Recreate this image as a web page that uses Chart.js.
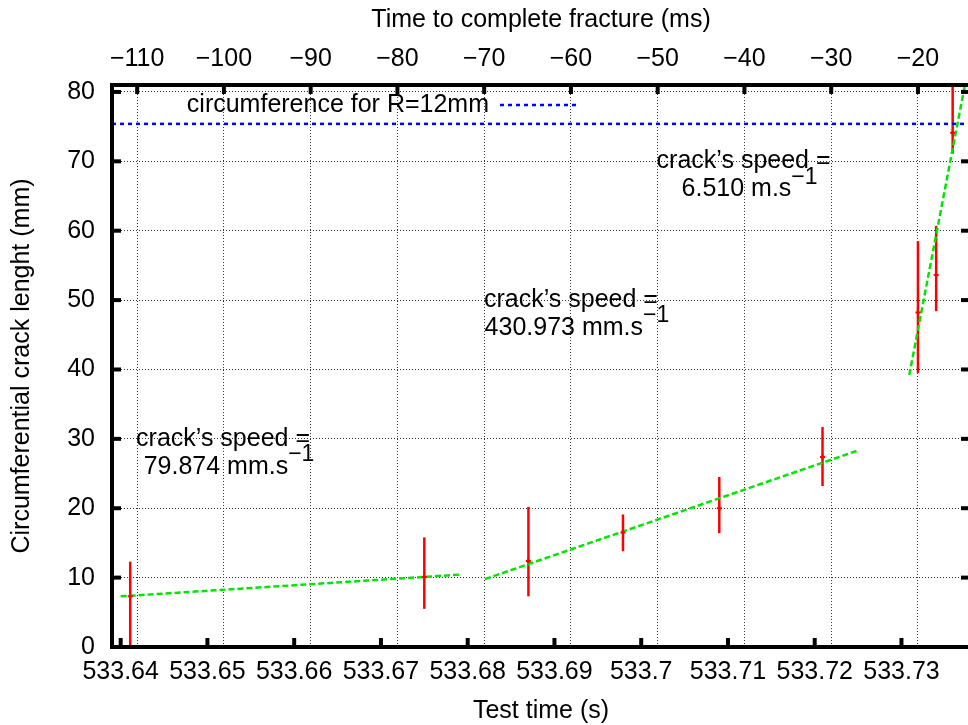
<!DOCTYPE html>
<html>
<head>
<meta charset="utf-8">
<title>Circumferential crack length</title>
<script src="https://cdn.jsdelivr.net/npm/chart.js@4/dist/chart.umd.min.js"></script>
<style>
    html, body { margin: 0; padding: 0; background: #fff; overflow: hidden; }
    #wrap { width: 976px; height: 725px; }
</style>
</head>
<body>
<div id="wrap"><canvas id="chartCrack" width="976" height="725"></canvas></div>
<script>
// measured crack length (mm) against test time (s), with error bar limits
const testTime    = [533.6411, 533.6750, 533.6870, 533.6979, 533.7090, 533.7209, 533.7319, 533.7340, 533.7359];
const crackLength = [7.3, 10.1, 12.4, 16.5, 20.0, 27.4, 48.2, 53.6, 74.1];
const crackLow    = [-0.3, 5.5, 7.3, 13.8, 16.4, 23.2, 39.5, 48.4, 71.1];
const crackHigh   = [12.3, 15.8, 20.2, 19.1, 24.5, 31.7, 58.5, 60.7, 82.0];

// linear fits, one per growth stage (end points)
const fitSlowX = [533.6400, 533.6790];
const fitSlowY = [7.30, 10.42];
const fitMidX  = [533.6820, 533.7250];
const fitMidY  = [9.79, 28.33];
const fitFastX = [533.7309, 533.7375];
const fitFastY = [39.2, 82.2];

const circumference = 75.4;        // 2*pi*R for R = 12 mm
const fractureTime = 533.7519;     // time of complete fracture (s)

const speedText  = ['79.874 mm.s', '430.973 mm.s', '6.510 m.s'];
const speedAtX   = [533.6518, 533.6919, 533.7118];
const speedAtY   = [30, 50, 70];

const xMin = 533.639, xMax = 533.7379;
const FONT = '"Liberation Sans", Arial, sans-serif';

Chart.defaults.font.family = FONT;
Chart.defaults.font.size = 25;
Chart.defaults.color = '#000';

const toXY = (xs, ys) => xs.map((x, i) => ({ x: x, y: ys[i] }));

const gnuplotStyle = {
    id: 'gnuplotStyle',
    beforeDatasetsDraw(chart) {
        // vertical error bars, drawn under the fits and markers
        const { ctx, chartArea: a, scales: { x, y } } = chart;
        ctx.save();
        ctx.beginPath();
        ctx.rect(a.left, a.top, a.right - a.left, a.bottom - a.top);
        ctx.clip();
        ctx.strokeStyle = '#ff0000';
        ctx.lineWidth = 2.5;
        testTime.forEach((t, i) => {
            const px = x.getPixelForValue(t);
            ctx.beginPath();
            ctx.moveTo(px, y.getPixelForValue(crackLow[i]));
            ctx.lineTo(px, y.getPixelForValue(crackHigh[i]));
            ctx.stroke();
        });
        ctx.restore();
    },
    afterDraw(chart) {
        const { ctx, chartArea: a, scales } = chart;
        const seg = (x1, y1, x2, y2) => { ctx.beginPath(); ctx.moveTo(x1, y1); ctx.lineTo(x2, y2); ctx.stroke(); };
        ctx.save();

        // frame and inward tick marks
        ctx.strokeStyle = '#000';
        ctx.lineWidth = 4;
        ctx.strokeRect(a.left, a.top, a.right - a.left, a.bottom - a.top);
        const tl = 9;
        scales.x.ticks.forEach(t => { const p = scales.x.getPixelForValue(t.value); seg(p, a.bottom, p, a.bottom - tl); });
        scales.x2.ticks.forEach(t => { const p = scales.x2.getPixelForValue(t.value); seg(p, a.top, p, a.top + tl); });
        scales.y.ticks.forEach(t => { const p = scales.y.getPixelForValue(t.value); seg(a.left, p, a.left + tl, p); });
        scales.y2.ticks.forEach(t => { const p = scales.y2.getPixelForValue(t.value); seg(a.right, p, a.right - tl, p); });

        // key
        const ds = chart.data.datasets[4];
        ctx.font = '25px ' + FONT;
        ctx.fillStyle = '#000';
        ctx.textAlign = 'right';
        ctx.textBaseline = 'middle';
        ctx.fillText(ds.label, 489, 105);
        ctx.strokeStyle = ds.borderColor;
        ctx.lineWidth = ds.borderWidth;
        ctx.setLineDash(ds.borderDash);
        seg(500, 105, 579, 105);
        ctx.setLineDash([]);

        // crack speed labels: two centred lines, unit with a -1 exponent
        speedText.forEach((txt, i) => {
            const cx = scales.x.getPixelForValue(speedAtX[i]);
            const cy = scales.y.getPixelForValue(speedAtY[i]);
            ctx.font = '25px ' + FONT;
            ctx.textAlign = 'center';
            ctx.fillText('crack\u2019s speed =', cx, cy);
            const w1 = ctx.measureText(txt).width;
            ctx.font = '23px ' + FONT;
            const sup = '\u22121';
            const w2 = ctx.measureText(sup).width;
            const left = cx - (w1 + w2) / 2 + 6;
            ctx.textAlign = 'left';
            ctx.fillText(sup, left + w1, cy + 28 - 12);
            ctx.font = '25px ' + FONT;
            ctx.fillText(txt, left, cy + 28);
        });
        ctx.restore();
    }
};

const ctx = document.getElementById('chartCrack').getContext('2d');
new Chart(ctx, {
    type: 'scatter',
    data: {
        datasets: [
            {
                label: 'measurements',
                data: toXY(testTime, crackLength),
                pointStyle: 'cross',
                pointRadius: 2.5,
                borderColor: '#ff0000',
                backgroundColor: '#ff0000',
                borderWidth: 2,
                showLine: false
            },
            {
                label: 'fit 1',
                type: 'line',
                data: toXY(fitSlowX, fitSlowY),
                borderColor: 'rgb(0,230,0)',
                borderWidth: 2.5,
                borderDash: [6, 3],
                pointRadius: 0
            },
            {
                label: 'fit 2',
                type: 'line',
                data: toXY(fitMidX, fitMidY),
                borderColor: 'rgb(0,230,0)',
                borderWidth: 2.5,
                borderDash: [6, 3],
                pointRadius: 0
            },
            {
                label: 'fit 3',
                type: 'line',
                data: toXY(fitFastX, fitFastY),
                borderColor: 'rgb(0,230,0)',
                borderWidth: 2.5,
                borderDash: [6, 3],
                pointRadius: 0
            },
            {
                label: 'circumference for R=12mm',
                type: 'line',
                data: toXY([xMin, xMax], [circumference, circumference]),
                borderColor: '#0000ff',
                borderWidth: 2.5,
                borderDash: [4, 4],
                pointRadius: 0
            }
        ]
    },
    options: {
        responsive: false,
        animation: false,
        devicePixelRatio: 1,
        plugins: { legend: { display: false }, tooltip: { enabled: false } },
        scales: {
            x: {
                type: 'linear',
                position: 'bottom',
                min: xMin,
                max: xMax,
                afterFit: s => { s.height = 78; },
                grid: { drawOnChartArea: false, drawTicks: false },
                border: { display: false },
                ticks: {
                    stepSize: 0.01,
                    includeBounds: false,
                    autoSkip: false,
                    maxRotation: 0,
                    padding: 10,
                    callback: v => String(+v.toFixed(2))
                },
                title: { display: true, text: 'Test time (s)', padding: { top: 0, bottom: -1 } }
            },
            x2: {
                type: 'linear',
                position: 'top',
                min: (xMin - fractureTime) * 1000,
                max: (xMax - fractureTime) * 1000,
                afterFit: s => { s.height = 85; },
                grid: { drawOnChartArea: true, drawTicks: false, color: '#333', lineWidth: 1 },
                border: { display: false, dash: [1, 2] },
                ticks: {
                    stepSize: 10,
                    includeBounds: false,
                    autoSkip: false,
                    maxRotation: 0,
                    padding: 11,
                    callback: v => (v < 0 ? '\u2212' : '') + Math.abs(v)
                },
                title: { display: true, text: 'Time to complete fracture (ms)', padding: { top: 5, bottom: 0 } }
            },
            y: {
                type: 'linear',
                position: 'left',
                min: 0,
                max: 81,
                afterFit: s => { s.width = 112; },
                grid: { drawOnChartArea: true, drawTicks: false, color: '#333', lineWidth: 1 },
                border: { display: false, dash: [1, 2] },
                ticks: { stepSize: 10, includeBounds: false, padding: 17 },
                title: { display: true, text: 'Circumferential crack lenght (mm)', padding: { top: 7, bottom: 0 } }
            },
            y2: {
                type: 'linear',
                position: 'right',
                min: 0,
                max: 81,
                afterFit: s => { s.width = 2; },
                grid: { drawOnChartArea: false, drawTicks: false },
                border: { display: false },
                ticks: { stepSize: 10, includeBounds: false, display: false }
            }
        }
    },
    plugins: [gnuplotStyle]
});
</script>
</body>
</html>
